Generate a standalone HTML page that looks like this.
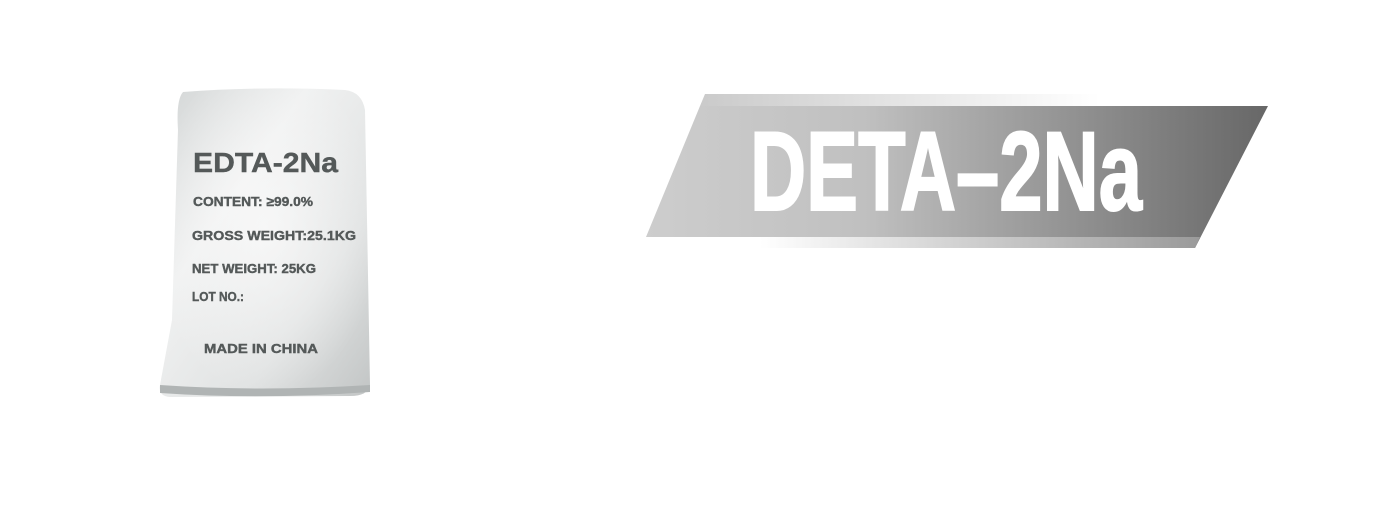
<!DOCTYPE html>
<html><head><meta charset="utf-8"><style>
html,body{margin:0;padding:0;background:#fff;}
svg{display:block}
</style></head><body>
<svg width="1377" height="526" viewBox="0 0 1377 526" xmlns="http://www.w3.org/2000/svg">
<defs>
<linearGradient id="bag" x1="0" y1="0" x2="1" y2="1">
<stop offset="0" stop-color="#d2d5d5"/><stop offset="0.35" stop-color="#f0f1f1"/><stop offset="0.7" stop-color="#e0e2e2"/><stop offset="1" stop-color="#c2c5c5"/>
</linearGradient>
<radialGradient id="bagc" cx="0.5" cy="0.45" r="0.55">
<stop offset="0" stop-color="#fafafa" stop-opacity="0.8"/><stop offset="1" stop-color="#fafafa" stop-opacity="0"/>
</radialGradient>
<linearGradient id="main" x1="646" y1="0" x2="1268" y2="0" gradientUnits="userSpaceOnUse">
<stop offset="0" stop-color="#cdcdcd"/><stop offset="0.35" stop-color="#c0c0c0"/><stop offset="1" stop-color="#676767"/>
</linearGradient>
<linearGradient id="top" x1="705" y1="0" x2="1100" y2="0" gradientUnits="userSpaceOnUse">
<stop offset="0" stop-color="#cbcbcb"/><stop offset="1" stop-color="#ffffff"/>
</linearGradient>
<linearGradient id="bot" x1="760" y1="0" x2="1200" y2="0" gradientUnits="userSpaceOnUse">
<stop offset="0" stop-color="#ffffff"/><stop offset="1" stop-color="#9a9a9a"/>
</linearGradient>
</defs>
<path d="M183 92 Q260 86 345 90 Q362 92 365 110 L370 385 Q368 396 350 396 L170 397 Q158 396 160 385 L172 320 L178 130 Q176 100 183 92 Z" fill="url(#bag)"/>
<path d="M183 92 Q260 86 345 90 Q362 92 365 110 L370 385 Q368 396 350 396 L170 397 Q158 396 160 385 L172 320 L178 130 Q176 100 183 92 Z" fill="url(#bagc)"/>
<path d="M160 385 Q260 392 370 385 L370 392 Q260 400 160 393 Z" fill="#b0b4b4"/>
<g font-family="Liberation Sans, sans-serif" font-weight="bold" fill="#545959" stroke="#545959" stroke-width="0.4">
<text x="193" y="172" font-size="28" textLength="145" lengthAdjust="spacingAndGlyphs">EDTA-2Na</text>
<text x="193" y="206" font-size="13" textLength="120" lengthAdjust="spacingAndGlyphs">CONTENT: ≥99.0%</text>
<text x="192" y="240" font-size="13" textLength="164" lengthAdjust="spacingAndGlyphs">GROSS WEIGHT:25.1KG</text>
<text x="192" y="273" font-size="13" textLength="124" lengthAdjust="spacingAndGlyphs">NET WEIGHT:  25KG</text>
<text x="192" y="301" font-size="13" textLength="52" lengthAdjust="spacingAndGlyphs">LOT NO.:</text>
<text x="204" y="353" font-size="13" textLength="114" lengthAdjust="spacingAndGlyphs">MADE IN CHINA</text>
</g>
<polygon points="705,94 1100,94 1100,106 700,106" fill="url(#top)"/>
<polygon points="700,106 1268,106 1195,248 760,248 760,237 646,237" fill="url(#main)"/>
<polygon points="760,237 1200,237 1195,248 760,248" fill="url(#bot)"/>
<text x="750" y="210" font-family="Liberation Sans, sans-serif" font-weight="bold" font-size="112" fill="#fff" stroke="#fff" stroke-width="2" textLength="392" lengthAdjust="spacingAndGlyphs">DETA–2Na</text>
</svg>
</body></html>
